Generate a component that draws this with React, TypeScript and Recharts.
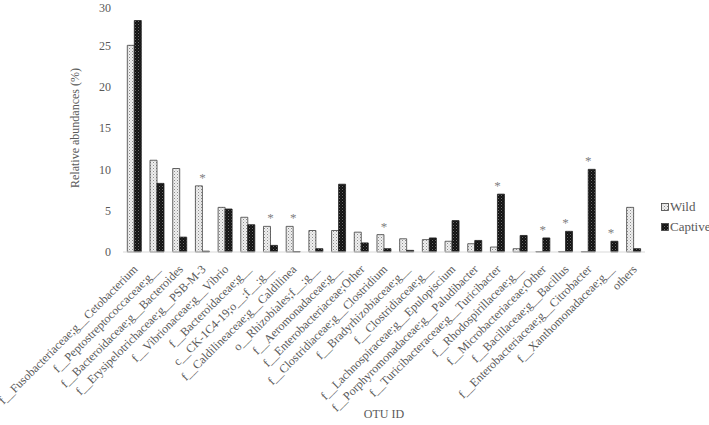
import React from 'react';
import { BarChart, Bar, XAxis, YAxis, Legend, LabelList } from 'recharts';

const otuIds = [
  'f__Fusobacteriaceae;g__Cetobacterium',
  'f__Peptostreptococcaceae;g__',
  'f__Bacteroidaceae;g__Bacteroides',
  'f__Erysipelotrichaceae;g__PSB-M-3',
  'f__Vibrionaceae;g__Vibrio',
  'f__Bacteroidaceae;g__',
  'c__CK-1C4-19;o__;f__;g__',
  'f__Caldilineaceae;g__Caldilinea',
  'o__Rhizobiales;f__;g__',
  'f__Aeromonadaceae;g__',
  'f__Enterobacteriaceae;Other',
  'f__Clostridiaceae;g__Clostridium',
  'f__Bradyrhizobiaceae;g__',
  'f__Clostridiaceae;g__',
  'f__Lachnospiraceae;g__Epulopiscium',
  'f__Porphyromonadaceae;g__Paludibacter',
  'f__Turicibacteraceae;g__Turicibacter',
  'f__Rhodospirillaceae;g__',
  'f__Microbacteriaceae;Other',
  'f__Bacillaceae;g__Bacillus',
  'f__Enterobacteriaceae;g__Citrobacter',
  'f__Xanthomonadaceae;g__',
  'others',
];
const wild = [25, 11.1, 10.1, 8.0, 5.4, 4.2, 3.1, 3.1, 2.6, 2.6, 2.4, 2.1, 1.6, 1.5, 1.3, 1.0, 0.6, 0.4, 0.05, 0.05, 0.05, 0, 5.4];
const captive = [28, 8.3, 1.8, 0.1, 5.2, 3.3, 0.8, 0.05, 0.4, 8.2, 1.1, 0.4, 0.2, 1.7, 3.8, 1.4, 7.0, 2.0, 1.7, 2.5, 10.0, 1.3, 0.4];
const significant = [false, false, false, true, false, false, true, true, false, false, false, true, false, false, false, false, true, false, true, true, true, true, false];
const yTicks = [0, 5, 10, 15, 20, 25, 30];

const rows = otuIds.map((id, i) => ({ id, wild: wild[i], captive: captive[i] }));

const FONT = 'Liberation Serif, Times New Roman, serif';
const TXT = '#595959';

const XTick = ({ x, y, payload }: any) => (
  <text
    x={x + 4}
    y={y + 10}
    transform={`rotate(-45, ${x + 4}, ${y + 10})`}
    textAnchor="end"
    style={{ fontFamily: FONT, fontSize: 12 }}
    fill={TXT}
  >
    {payload.value}
  </text>
);

const star = (series: 'wild' | 'captive') => (props: any) => {
  const { x, y, width, index } = props;
  if (!significant[index]) return null;
  const higherWild = wild[index] >= captive[index];
  if ((series === 'wild') !== higherWild) return null;
  const cx = series === 'wild' ? x + width : x;
  return (
    <text x={cx} y={y - 4} textAnchor="middle" style={{ fontFamily: FONT, fontSize: 13 }} fill="#808080">
      *
    </text>
  );
};

const LegendBox = () => (
  <div style={{ fontFamily: FONT, fontSize: 13, color: TXT, lineHeight: '20px' }}>
    {[
      { name: 'Wild', fill: 'url(#wildDots)' },
      { name: 'Captive', fill: 'url(#captiveDots)' },
    ].map((it) => (
      <div key={it.name} style={{ display: 'flex', alignItems: 'center', whiteSpace: 'nowrap' }}>
        <svg width={8} height={8} style={{ marginRight: 1 }}>
          <rect x={0.5} y={0.5} width={7} height={7} fill={it.fill} stroke="#404040" strokeWidth={0.8} />
        </svg>
        {it.name}
      </div>
    ))}
  </div>
);

export default function App() {
  return (
    <div style={{ position: 'absolute', left: 0, top: 0, background: '#fff', fontFamily: FONT }}>
      <svg width={0} height={0} style={{ position: 'absolute' }}>
        <defs>
          <pattern id="wildDots" width={3} height={3} patternUnits="userSpaceOnUse">
            <rect width={3} height={3} fill="#f0f0f0" />
            <rect width={1} height={1} fill="#8c8c8c" />
            <rect x={1.5} y={1.5} width={1} height={1} fill="#b0b0b0" />
          </pattern>
          <pattern id="captiveDots" width={3} height={3} patternUnits="userSpaceOnUse">
            <rect width={3} height={3} fill="#111" />
            <rect width={1} height={1} fill="#6a6a6a" />
            <rect x={1.5} y={1.5} width={1} height={1} fill="#444" />
          </pattern>
        </defs>
      </svg>
      <BarChart
        width={709}
        height={425}
        data={rows}
        margin={{ top: 4, right: 64, bottom: 0, left: 35 }}
        barCategoryGap="19%"
        barGap={0}
        style={{ fontFamily: FONT }}
      >
        <XAxis
          dataKey="id"
          interval={0}
          height={173}
          tick={<XTick />}
          tickLine={false}
          axisLine={{ stroke: '#d9d9d9' }}
          label={{ value: 'OTU ID', position: 'insideBottom', offset: 7, style: { fontFamily: FONT, fontSize: 12 }, fill: TXT }}
        />
        <YAxis
          width={88}
          domain={[0, 30]}
          ticks={yTicks}
          axisLine={false}
          tickLine={false}
          tickSize={0}
          tickMargin={12}
          tick={{ style: { fontFamily: FONT, fontSize: 12 }, fill: TXT }}
          label={{ value: 'Relative abundances (%)', angle: -90, position: 'center', dx: -4, style: { fontFamily: FONT, fontSize: 12 }, fill: TXT }}
        />
        <Legend
          layout="horizontal"
          verticalAlign="middle"
          align="center"
          content={<LegendBox />}
          wrapperStyle={{ left: 661, top: 197, width: 60 }}
        />
        <Bar dataKey="wild" name="Wild" fill="url(#wildDots)" stroke="#404040" strokeWidth={0.8} isAnimationActive={false}>
          <LabelList dataKey="wild" content={star('wild')} />
        </Bar>
        <Bar dataKey="captive" name="Captive" fill="url(#captiveDots)" stroke="#222" strokeWidth={0.8} isAnimationActive={false}>
          <LabelList dataKey="captive" content={star('captive')} />
        </Bar>
      </BarChart>
    </div>
  );
}
